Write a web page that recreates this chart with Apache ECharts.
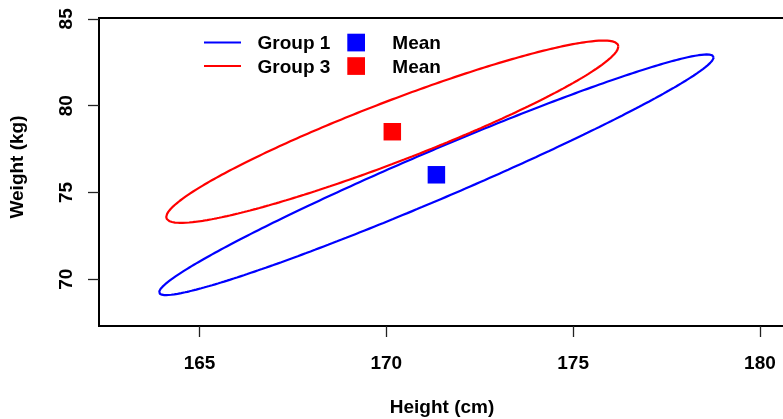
<!DOCTYPE html>
<html>
<head>
<meta charset="utf-8">
<script src="https://cdn.jsdelivr.net/npm/echarts@6/dist/echarts.min.js"></script>
<style>
  html, body { margin: 0; padding: 0; background: #fff; }
  #chart { width: 783px; height: 419px; }
</style>
</head>
<body>
<div id="chart"></div>
<script>
// Group summaries: mean height/weight and the half-extent of each confidence ellipse
const groups = ['Group 1', 'Group 3'];
const meanHeight = [171.34, 170.16];
const meanWeight = [76.02, 78.50];
const heightHalfRange = [7.42, 6.05];
const weightHalfRange = [6.93, 5.25];
const correlation = [0.976, 0.935];

const xTicks = [165, 170, 175, 180];
const yTicks = [70, 75, 80, 85];

const groupColors = ['#0000ff', '#ff0000'];
const FONT = '"Liberation Sans", Arial, Helvetica, sans-serif';
const FS = 19;

// Outline of the ellipse for one group (parametric form from spreads and correlation)
function ellipse(i, steps) {
  const phase = Math.acos(correlation[i]);
  const pts = [];
  for (let k = 0; k <= steps; k++) {
    const t = (2 * Math.PI * k) / steps;
    pts.push([
      meanHeight[i] + heightHalfRange[i] * Math.cos(t),
      meanWeight[i] + weightHalfRange[i] * Math.cos(t - phase)
    ]);
  }
  return pts;
}

const series = [];
groups.forEach((g, i) => {
  series.push({
    name: g,
    type: 'line',
    data: ellipse(i, 360),
    showSymbol: false,
    smooth: false,
    lineStyle: { color: groupColors[i], width: 2.2 },
    silent: true,
    animation: false
  });
});
series.push({
  name: 'Mean',
  type: 'scatter',
  symbol: 'rect',
  symbolSize: 17.5,
  data: groups.map((g, i) => ({
    value: [meanHeight[i], meanWeight[i]],
    itemStyle: { color: groupColors[i], opacity: 1 }
  })),
  animation: false
});

// Legend drawn as a two-column key: line + group name, square + "Mean"
const legendGraphics = [];
groups.forEach((g, i) => {
  const y = 42.5 + i * 23.5;
  legendGraphics.push(
    { type: 'line', shape: { x1: 204, y1: y, x2: 241, y2: y }, style: { stroke: groupColors[i], lineWidth: 2 } },
    { type: 'text', x: 257.5, y: y + 1.5, style: { text: g, font: 'bold ' + FS + 'px ' + FONT, fill: '#000', textVerticalAlign: 'middle' } },
    { type: 'rect', shape: { x: 347.3, y: y - 8.8, width: 17.7, height: 17.7 }, style: { fill: groupColors[i] } },
    { type: 'text', x: 392.3, y: y + 1.5, style: { text: 'Mean', font: 'bold ' + FS + 'px ' + FONT, fill: '#000', textVerticalAlign: 'middle' } }
  );
});

const chart = echarts.init(document.getElementById('chart'), null, { renderer: 'canvas' });
chart.setOption({
  animation: false,
  backgroundColor: '#fff',
  grid: {
    left: 99, top: 18, width: 686, height: 308,
    containLabel: false,
    outerBoundsMode: 'none',
    show: true, borderColor: '#000', borderWidth: 2, backgroundColor: 'transparent'
  },
  xAxis: {
    type: 'value',
    min: 162.31, max: 180.67,
    name: 'Height (cm)',
    nameLocation: 'middle',
    nameGap: 72,
    nameTextStyle: { fontFamily: FONT, fontWeight: 'bold', fontSize: FS, color: '#000' },
    axisLine: { show: false },
    splitLine: { show: false },
    axisTick: { show: true, length: 11, customValues: xTicks, lineStyle: { color: '#222', width: 1.3 } },
    axisLabel: { customValues: xTicks, margin: 28, fontFamily: FONT, fontWeight: 'bold', fontSize: FS, color: '#000' }
  },
  yAxis: {
    type: 'value',
    min: 67.31, max: 85.05,
    name: 'Weight (kg)',
    nameLocation: 'middle',
    nameGap: 72,
    nameTextStyle: { fontFamily: FONT, fontWeight: 'bold', fontSize: FS, color: '#000', padding: [0, 0, 0, 10] },
    axisLine: { show: false },
    splitLine: { show: false },
    axisTick: { show: true, length: 11, customValues: yTicks, lineStyle: { color: '#222', width: 1.3 } },
    axisLabel: { customValues: yTicks, rotate: 90, margin: 23, fontFamily: FONT, fontWeight: 'bold', fontSize: FS, color: '#000' }
  },
  series: series,
  graphic: legendGraphics
});
</script>
</body>
</html>
